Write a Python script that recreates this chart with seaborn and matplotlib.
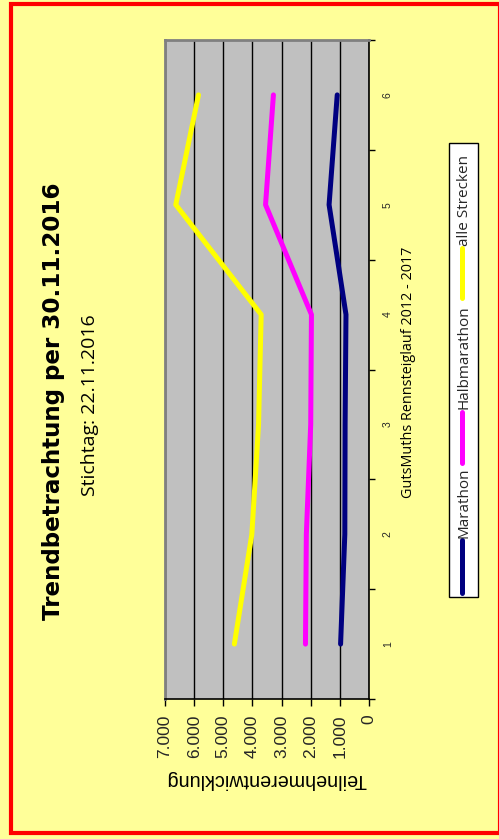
import matplotlib
matplotlib.use("Agg")
import matplotlib.pyplot as plt
from matplotlib.patches import Rectangle
from matplotlib.lines import Line2D
import seaborn as sns
import pandas as pd

# Data: participants per race year (categories 1..6)
categories = [1, 2, 3, 4, 5, 6]
marathon = [975, 830, 820, 790, 1370, 1090]
halbmarathon = [2180, 2150, 2000, 1975, 3550, 3280]
alle_strecken = [4620, 4020, 3790, 3700, 6630, 5850]
series_names = ["Marathon", "Halbmarathon", "alle Strecken"]
series_colors = ["#000080", "#FF00FF", "#FFFF00"]
value_ticks = [0, 1000, 2000, 3000, 4000, 5000, 6000, 7000]
value_tick_labels = ["0", "1.000", "2.000", "3.000", "4.000", "5.000", "6.000", "7.000"]
category_labels = ["1", "2", "3", "4", "5", "6"]

title = "Trendbetrachtung per 30.11.2016"
subtitle = "Stichtag: 22.11.2016"
cat_axis_title = "GutsMuths Rennsteiglauf 2012 - 2017"
val_axis_title = "Teilnehmerentwicklung"

rows = []
for name, vals in zip(series_names, [marathon, halbmarathon, alle_strecken]):
    for c, v in zip(categories, vals):
        rows.append({"series": name, "cat": c, "value": v})
df = pd.DataFrame(rows)

sns.set_theme(style="white")
plt.rcParams["font.family"] = ["DejaVu Sans"]

W, H = 499, 839
fig = plt.figure(figsize=(W / 100, H / 100), dpi=100)
bg = "#FFFF99"
fig.patch.set_facecolor(bg)


def fx(px):
    return px / W


def fy(py):
    return 1 - py / H


# red frame around the whole sheet
fig.patches.append(Rectangle((fx(11), fy(833)), fx(500) - fx(11), fy(4) - fy(833),
                             transform=fig.transFigure, fill=False,
                             edgecolor="#FF0000", linewidth=3, zorder=0))

ax = fig.add_axes([fx(165), fy(699), fx(369) - fx(165), fy(40) - fy(699)])
ax.set_facecolor("#C0C0C0")

sns.lineplot(data=df, x="value", y="cat", hue="series", hue_order=series_names,
             palette=series_colors, orient="y", estimator=None, sort=False,
             linewidth=3.6, legend=False, ax=ax, solid_capstyle="round")

ax.set_xlim(7000, 0)
ax.set_ylim(0.5, 6.5)

ax.set_xticks(value_ticks)
ax.set_xticklabels(value_tick_labels, rotation=90, family="Liberation Sans", fontsize=12.5)
ax.tick_params(axis="x", direction="out", length=5, width=1, color="black", pad=6,
               bottom=True)
ax.grid(axis="x", color="black", linewidth=1)
ax.grid(axis="y", visible=False)

ax.yaxis.tick_right()
ax.set_yticks(categories)
ax.set_yticklabels(category_labels, family="Liberation Sans", fontsize=7.5, rotation=90,
                   va="center")
ax.set_yticks([c - 0.5 for c in categories] + [6.5], minor=True)
ax.tick_params(axis="y", which="major", length=0, pad=10)
ax.tick_params(axis="y", which="minor", direction="out", length=4, width=1,
               color="black", right=True)
ax.set_xlabel("")
ax.set_ylabel("")

for side in ["left", "top"]:
    ax.spines[side].set_color("#808080")
    ax.spines[side].set_linewidth(2)
for side in ["right", "bottom"]:
    ax.spines[side].set_color("black")
    ax.spines[side].set_linewidth(1.2)

# titles
fig.text(fx(54), fy(401), title, rotation=90, ha="center", va="center",
         fontsize=16.6, fontweight="bold", color="black")
fig.text(fx(90), fy(405), subtitle, rotation=90, ha="center", va="center",
         fontsize=14, family="Open Sans", color="black")
fig.text(fx(409), fy(372), cat_axis_title, rotation=90, ha="center", va="center",
         fontsize=10.4, family="Open Sans", color="black")
fig.text(fx(266), fy(779), val_axis_title, rotation=180, ha="center", va="center",
         fontsize=14.2, family="Liberation Sans", color="black")

# legend box drawn vertically
fig.patches.append(Rectangle((fx(450), fy(598)), fx(479) - fx(450), fy(144) - fy(598),
                             transform=fig.transFigure, facecolor="#808080",
                             edgecolor="none", zorder=2))
fig.patches.append(Rectangle((fx(449), fy(597)), fx(478) - fx(449), fy(143) - fy(597),
                             transform=fig.transFigure, facecolor="white",
                             edgecolor="black", linewidth=1, zorder=3))
legend_entries = [
    (series_names[0], series_colors[0], 593, 540, 538),
    (series_names[1], series_colors[1], 463, 412, 409),
    (series_names[2], series_colors[2], 298, 248, 246),
]
for name, color, y0, y1, ytxt in legend_entries:
    fig.lines.append(Line2D([fx(462), fx(462)], [fy(y0), fy(y1)], color=color,
                            linewidth=3.6, solid_capstyle="round",
                            transform=fig.transFigure, zorder=4))
    fig.text(fx(464), fy(ytxt), name, rotation=90, rotation_mode="anchor",
             ha="left", va="center", fontsize=11, family="Open Sans", zorder=5)

fig.savefig("out.png", dpi=100, facecolor=bg)
